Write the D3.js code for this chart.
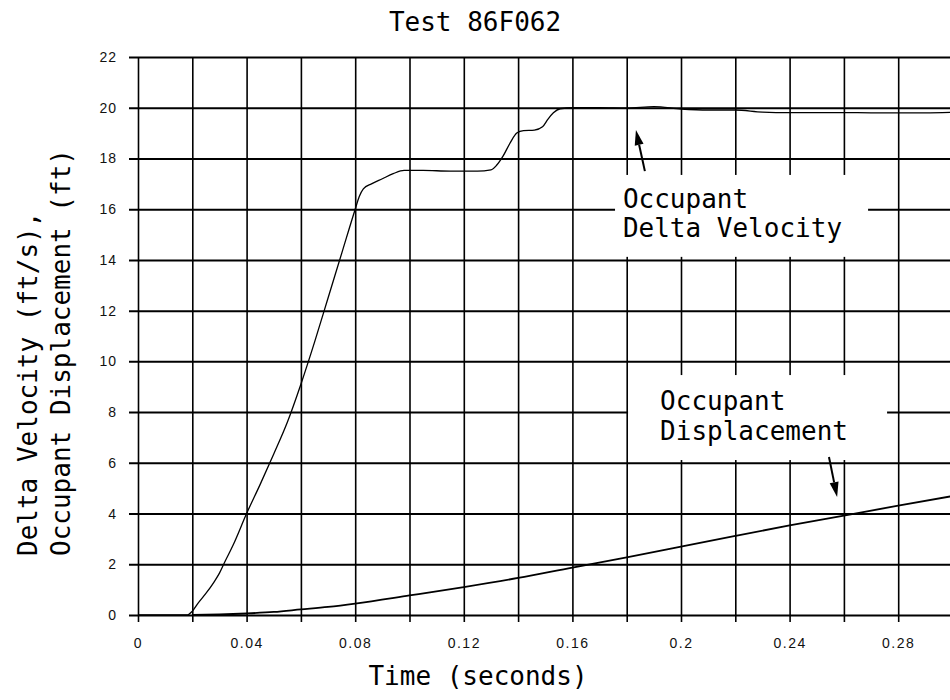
<!DOCTYPE html>
<html><head><meta charset="utf-8">
<script src="https://cdn.jsdelivr.net/npm/d3@7/dist/d3.min.js"></script>
<style>body{margin:0;background:#fff}svg{display:block}</style>
</head><body>
<svg id="chart" width="950" height="700"></svg>
<script>
// ---- data ----
const chartTitle = "Test 86F062";
const xAxisTitle = "Time (seconds)";
const yAxisTitleLines = ["Delta Velocity (ft/s),", "Occupant Displacement (ft)"];
const xGridValues = [0,0.02,0.04,0.06,0.08,0.10,0.12,0.14,0.16,0.18,0.20,0.22,0.24,0.26,0.28];
const xTickLabelValues = [0,0.04,0.08,0.12,0.16,0.20,0.24,0.28];
const xTickLabels = ["0","0.04","0.08","0.12","0.16","0.2","0.24","0.28"];
const yTickValues = [0,2,4,6,8,10,12,14,16,18,20,22];
const yTickLabels = ["0","2","4","6","8","10","12","14","16","18","20","22"];

const velocityTime  = [0,0.015,0.018,0.020,0.022,0.025,0.028,0.030,0.032,0.035,0.040,0.045,0.050,0.055,0.060,0.065,0.070,0.075,0.080,0.0815,0.083,0.086,0.090,0.094,0.098,0.105,0.115,0.125,0.130,0.132,0.1345,0.137,0.1395,0.142,0.146,0.149,0.151,0.153,0.1555,0.160,0.170,0.180,0.190,0.200,0.210,0.220,0.230,0.240,0.250,0.260,0.270,0.280,0.290,0.300];
const velocityValue = [0,0,0,0.15,0.45,0.85,1.3,1.65,2.1,2.75,4.0,5.15,6.35,7.6,9.1,10.75,12.5,14.25,16.0,16.5,16.8,17.0,17.2,17.4,17.53,17.53,17.5,17.5,17.55,17.72,18.1,18.6,19.0,19.1,19.12,19.25,19.55,19.8,19.96,20.0,20.0,19.98,20.04,19.95,19.91,19.91,19.83,19.81,19.81,19.81,19.8,19.8,19.8,19.82];

const displacementTime  = [0.02,0.03,0.04,0.05,0.06,0.07,0.08,0.10,0.12,0.14,0.16,0.18,0.20,0.22,0.24,0.26,0.28,0.30];
const displacementValue = [0,0.02,0.06,0.12,0.22,0.32,0.45,0.77,1.1,1.46,1.87,2.27,2.7,3.12,3.53,3.92,4.31,4.69];

// annotation anchors, in data units
const velLabelLines = ["Occupant","Delta Velocity"];
const velLabelAt = {t:0.1786, v:[16.05,14.9]};
const velBox = {t0:0.1757, t1:0.2689, v0:17.35, v1:14.12};
const velArrow = {from:[0.1867,17.5], to:[0.1834,19.12]};
const dispLabelLines = ["Occupant","Displacement"];
const dispLabelAt = {t:0.1923, v:[8.08,6.9]};
const dispBox = {t0:0.1805, t1:0.2759, v0:9.46, v1:6.11};
const dispArrow = {from:[0.2545,6.23], to:[0.2575,4.65]};

// ---- layout ----
const svg = d3.select("#chart");
const x0 = 138, xStep = 54.3;
const x = d3.scaleLinear().domain([0,0.30]).range([x0, x0 + 15*xStep]);
const y = d3.scaleLinear().domain([0,22]).range([615,57]);
const mono = "'DejaVu Sans Mono', monospace";
const sans = "'Liberation Sans', Arial, sans-serif";

// horizontal grid + y labels
const yAxis = d3.axisLeft(y).tickValues(yTickValues)
  .tickSize(-(x(0.30) - 129)).tickPadding(12)
  .tickFormat((d,i) => yTickLabels[i]);
const gy = svg.append("g").attr("transform","translate(129,0)").call(yAxis);
gy.select(".domain").remove();
gy.selectAll(".tick line").attr("stroke","#000").attr("stroke-width",2);
gy.selectAll(".tick text").attr("font-family",sans).attr("font-size",14).attr("fill","#111").attr("letter-spacing",1);

// vertical grid + x labels
const xAxis = d3.axisBottom(x).tickValues(xGridValues)
  .tickSize(-(622 - y(22))).tickPadding(16)
  .tickFormat(d => { const i = xTickLabelValues.findIndex(v => Math.abs(v-d)<1e-9); return i>=0 ? xTickLabels[i] : ""; });
const gx = svg.append("g").attr("transform","translate(0,622)").call(xAxis);
gx.select(".domain").remove();
gx.selectAll(".tick line").attr("stroke","#000").attr("stroke-width",1.6);
gx.selectAll(".tick text").attr("font-family",sans).attr("font-size",14).attr("fill","#111").attr("letter-spacing",1.5);

// annotation backgrounds
[velBox, dispBox].forEach(b => {
  svg.append("rect").attr("x",x(b.t0)).attr("y",y(b.v0))
    .attr("width",x(b.t1)-x(b.t0)).attr("height",y(b.v1)-y(b.v0)).attr("fill","#fff");
});

// curves
const line = d3.line().x(d => x(d[0])).y(d => y(d[1])).curve(d3.curveMonotoneX);
svg.append("path").datum(velocityTime.map((t,i)=>[t,velocityValue[i]]))
  .attr("d",line).attr("fill","none").attr("stroke","#000").attr("stroke-width",1.3);
svg.append("path").datum(displacementTime.map((t,i)=>[t,displacementValue[i]]))
  .attr("d",line).attr("fill","none").attr("stroke","#000").attr("stroke-width",1.8);

// annotation text
function label(lines, at){
  lines.forEach((s,i)=>{
    svg.append("text").attr("x",x(at.t)).attr("y",y(at.v[i]))
      .attr("font-family",mono).attr("font-size",26).attr("fill","#000").text(s);
  });
}
label(velLabelLines, velLabelAt);
label(dispLabelLines, dispLabelAt);

// arrows
function arrow(a){
  const x1=x(a.from[0]), y1=y(a.from[1]), x2=x(a.to[0]), y2=y(a.to[1]);
  const dx=x2-x1, dy=y2-y1, L=Math.hypot(dx,dy), ux=dx/L, uy=dy/L;
  const hl=15, hw=4.5;
  const bx=x2-ux*hl, by=y2-uy*hl;
  svg.append("line").attr("x1",x1).attr("y1",y1).attr("x2",bx).attr("y2",by)
    .attr("stroke","#000").attr("stroke-width",2);
  svg.append("path").attr("d",`M${x2},${y2}L${bx-uy*hw},${by+ux*hw}L${bx+uy*hw},${by-ux*hw}Z`).attr("fill","#000");
}
arrow(velArrow);
arrow(dispArrow);

// titles
svg.append("text").attr("x",475).attr("y",31).attr("text-anchor","middle")
  .attr("font-family",mono).attr("font-size",26).attr("fill","#000").text(chartTitle);
svg.append("text").attr("x",478).attr("y",685).attr("text-anchor","middle")
  .attr("font-family",mono).attr("font-size",26).attr("fill","#000").text(xAxisTitle);
const yBaselines = [37,70];
yAxisTitleLines.forEach((s,i)=>{
  svg.append("text").attr("transform",`translate(${yBaselines[i]},556) rotate(-90)`)
    .attr("font-family",mono).attr("font-size",26).attr("fill","#000").text(s);
});
</script>
</body></html>
